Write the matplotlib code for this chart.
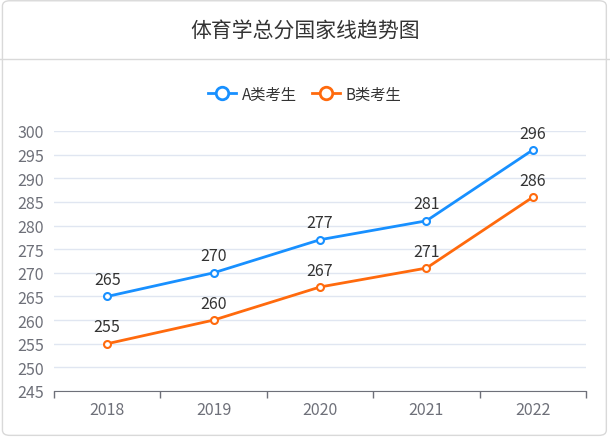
"""
体育学总分国家线趋势图
"""

import matplotlib.pyplot as plt
from matplotlib.patches import FancyBboxPatch
from matplotlib.lines import Line2D

plt.rcParams["font.family"] = ["Noto Sans CJK SC", "DejaVu Sans"]

years = ["2018", "2019", "2020", "2021", "2022"]
scores_a = [265, 270, 277, 281, 296]
scores_b = [255, 260, 267, 271, 286]
series_names = ["A类考生", "B类考生"]
y_ticks = list(range(245, 301, 5))

BLUE = "#1890ff"
ORANGE = "#ff6a0d"
GRID = "#e0e6f1"
AXIS = "#6e7079"

fig = plt.figure(figsize=(6.1, 4.39), dpi=100)

# рамка и разделитель заголовка
fig.patches.append(FancyBboxPatch(
    (0.004, 0.006), 0.99, 0.99, boxstyle="round,pad=0,rounding_size=0.012",
    transform=fig.transFigure, facecolor="white", edgecolor="#d9d9d9", lw=1,
    zorder=-5))
fig.add_artist(Line2D([0, 1], [1 - 60 / 439] * 2, color="#d9d9d9", lw=1,
                      transform=fig.transFigure, zorder=-4))
fig.text(0.5, 1 - 31 / 439, "体育学总分国家线趋势图", ha="center", va="center",
         fontsize=15, color="#333333")

ax = fig.add_axes([54 / 610, 47 / 439, 532 / 610, 260 / 439])
ax.set_facecolor("none")
x = list(range(len(years)))

for vals, color, name in [(scores_a, BLUE, series_names[0]),
                          (scores_b, ORANGE, series_names[1])]:
    ax.plot(x, vals, "-o", color=color, lw=2, ms=5, mfc="white", mew=1.5,
            label=name, zorder=3)
    for xi, v in zip(x, vals):
        ax.annotate(str(v), (xi, v), xytext=(0, 6), textcoords="offset points",
                    ha="center", va="bottom", fontsize=11.5, color="#333333")

ax.set_xlim(-0.5, len(years) - 0.5)
ax.set_ylim(245, 300)
ax.set_yticks(y_ticks)
ax.set_yticklabels([str(t) for t in y_ticks])
ax.set_xticks([i - 0.5 for i in range(len(years) + 1)])
ax.set_xticklabels([])
ax.set_xticks(x, minor=True)
ax.set_xticklabels(years, minor=True)
ax.tick_params(axis="x", which="major", length=5, color=AXIS, width=1)
ax.tick_params(axis="x", which="minor", length=0, pad=7, labelsize=11.5,
               labelcolor=AXIS)
ax.tick_params(axis="y", length=0, pad=7, labelsize=11.5, labelcolor=AXIS)
ax.grid(axis="y", color=GRID, lw=1)
ax.set_axisbelow(True)
for s in ["top", "right", "left"]:
    ax.spines[s].set_visible(False)
ax.spines["bottom"].set_color(AXIS)

handles = [Line2D([], [], color=c, lw=2, marker="o", ms=9, mfc="white", mew=2)
           for c in (BLUE, ORANGE)]
fig.legend(handles, series_names, loc="center",
           bbox_to_anchor=(0.5, 1 - 95 / 439), ncol=2, frameon=False,
           fontsize=11, handlelength=1.8, columnspacing=1.0,
           handletextpad=0.4, labelcolor="#333333")

plt.savefig("out.png", dpi=100)
